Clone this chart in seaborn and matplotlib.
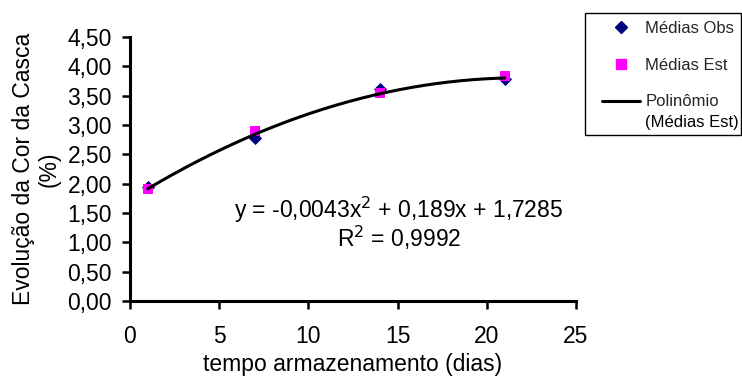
import numpy as np
import pandas as pd
import matplotlib
matplotlib.use("Agg")
import matplotlib.pyplot as plt
import seaborn as sns
from matplotlib.lines import Line2D
from matplotlib.patches import Rectangle

# Storage time (days) and shell colour means
dias = [1, 7, 14, 21]
medias_obs = [1.94, 2.77, 3.61, 3.78]
medias_est = [1.91, 2.89, 3.55, 3.84]

# Quadratic trend fitted to the estimated means
coef_a, coef_b, coef_c = -0.0043, 0.189, 1.7285
r2 = 0.9992

x_ticks = [0, 5, 10, 15, 20, 25]
y_ticks = [0.0, 0.5, 1.0, 1.5, 2.0, 2.5, 3.0, 3.5, 4.0, 4.5]

sns.set_theme(style="white")
plt.rcParams["font.family"] = ["Liberation Sans", "DejaVu Sans"]

FS = 16.5
W, H = 742, 376

fig = plt.figure(figsize=(W / 100, H / 100), dpi=100)
ax = fig.add_axes([130 / W, 1 - 301 / H, (576 - 130) / W, (301 - 37) / H])

df = pd.DataFrame({"dias": dias, "obs": medias_obs, "est": medias_est})
sns.scatterplot(data=df, x="dias", y="obs", marker="D", s=45, color="#000080",
                edgecolor="#000080", linewidth=0, ax=ax, zorder=3)
sns.scatterplot(data=df, x="dias", y="est", marker="s", s=45, color="#FF00FF",
                edgecolor="#FF00FF", linewidth=0, ax=ax, zorder=4)

xs = np.linspace(min(dias), max(dias), 200)
curve = pd.DataFrame({"x": xs, "y": coef_a * xs ** 2 + coef_b * xs + coef_c})
sns.lineplot(data=curve, x="x", y="y", color="black", linewidth=2.2, ax=ax, zorder=5)

ax.set_xlim(0, 25)
ax.set_ylim(0, 4.5)
ax.set_xticks(x_ticks)
ax.set_yticks(y_ticks)
ax.set_xticklabels([str(t) for t in x_ticks])
ax.set_yticklabels([f"{t:.2f}".replace(".", ",") for t in y_ticks])
ax.tick_params(axis="both", which="major", direction="out", length=6, width=1.8,
               color="black", labelsize=FS, labelcolor="black", pad=7)
ax.tick_params(axis="x", pad=11, bottom=True)
ax.tick_params(axis="y", left=True)
for side in ["top", "right"]:
    ax.spines[side].set_visible(False)
for side in ["left", "bottom"]:
    ax.spines[side].set_color("black")
    ax.spines[side].set_linewidth(2.2)
ax.set_xlabel("")
ax.set_ylabel("")
ax.patch.set_alpha(0)

fig.text(353 / W, 1 - 364 / H, "tempo armazenamento (dias)", ha="center", va="center",
         fontsize=FS, color="black")
fig.text(36 / W, 1 - 169 / H, "Evolução da Cor da Casca\n(%)", ha="center", va="center",
         rotation=90, fontsize=FS, color="black", multialignment="center", linespacing=1.15)

fig.text(399 / W, 1 - 210 / H, r"y = -0,0043x$^{2}$ + 0,189x + 1,7285",
         ha="center", va="center", fontsize=FS, color="black")
fig.text(399 / W, 1 - 238 / H, r"R$^{2}$ = 0,9992", ha="center", va="center",
         fontsize=FS, color="black")

# Legend box outside the plot area
fig.add_artist(Rectangle((585 / W, 1 - 135 / H), (741 - 585) / W, (135 - 13) / H,
                         transform=fig.transFigure, fill=False, edgecolor="black",
                         linewidth=1.0))

LFS = 12
handles = [
    Line2D([], [], marker="D", color="#000080", linestyle="none", markersize=6),
    Line2D([], [], marker="s", color="#FF00FF", linestyle="none", markersize=6.5),
    Line2D([], [], color="black", linewidth=2.2),
]
labels = ["Médias Obs", "Médias Est", "Polinômio"]
leg = fig.legend(handles, labels, loc="upper left", bbox_to_anchor=(602 / W, 1 - 21 / H),
                 frameon=False, fontsize=LFS, handlelength=2.3,
                 handletextpad=0.3, labelspacing=1.3, borderpad=0, borderaxespad=0)

fig.canvas.draw()
bb = leg.get_texts()[2].get_window_extent()
fig.text(bb.x0 / W, (bb.y0 - 21 + bb.height / 2) / H, "(Médias Est)", ha="left", va="center",
         fontsize=LFS, color="black")

fig.savefig("out.png", dpi=100)
